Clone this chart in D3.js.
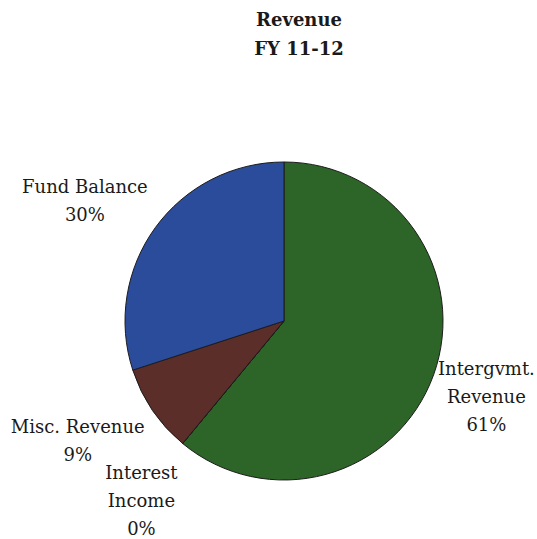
<!DOCTYPE html>
<html>
<head>
<meta charset="utf-8">
<script src="https://cdn.jsdelivr.net/npm/d3@7"></script>
<style>
  html, body { margin: 0; padding: 0; background: #ffffff; }
  svg { display: block; }
</style>
</head>
<body>
<svg id="chart" width="537" height="539"></svg>
<script>
// Revenue sources, FY 11-12 (percent of total)
const categories = ["Intergvmt. Revenue", "Interest Income", "Misc. Revenue", "Fund Balance"];
const values = [61, 0, 9, 30];
const labelLines = [["Intergvmt.", "Revenue", "61%"], ["Interest", "Income", "0%"], ["Misc. Revenue", "9%"], ["Fund Balance", "30%"]];
const colors = ["#2d6427", "#3a3a3a", "#5b2e29", "#2b4b9b"];
const titleLines = ["Revenue", "FY 11-12"];

const fontFamily = "DejaVu Serif, serif";

const svg = d3.select("#chart");
const cx = 284, cy = 321, radius = 159;

// Title
svg.append("text")
  .attr("x", 299).attr("y", 26)
  .attr("text-anchor", "middle")
  .attr("fill", "#1a1a1a")
  .attr("font-family", fontFamily)
  .attr("font-weight", "bold")
  .attr("font-size", 18)
  .selectAll("tspan").data(titleLines).join("tspan")
  .attr("x", 299).attr("dy", (d, i) => i === 0 ? 0 : 29)
  .text(d => d);

const pie = d3.pie().sort(null).value(d => d)(values);
const arc = d3.arc().innerRadius(0).outerRadius(radius);
const labelArc = d3.arc().innerRadius(230).outerRadius(230);

const g = svg.append("g").attr("transform", `translate(${cx},${cy})`);

g.selectAll("path.slice").data(pie).join("path")
  .attr("class", "slice")
  .attr("d", arc)
  .attr("fill", (d, i) => colors[i])
  .attr("stroke", "#1c1c1c")
  .attr("stroke-width", 1)
  .attr("stroke-linejoin", "round");

// Outside labels placed around the pie, with small per-label nudges
const nudges = [[-14, -3], [4, 2], [-16, -10], [-13, 14]];
const lineH = 28;

g.selectAll("text.label").data(pie).join("text")
  .attr("class", "label")
  .attr("text-anchor", "middle")
  .attr("fill", "#1a1a1a")
  .attr("font-family", fontFamily)
  .attr("font-size", 18)
  .each(function(d, i) {
    const [x0, y0] = labelArc.centroid(d);
    const x = x0 + nudges[i][0];
    const lines = labelLines[i];
    const yStart = y0 + nudges[i][1] - (lines.length - 1) * lineH / 2 + 7;
    d3.select(this).selectAll("tspan").data(lines).join("tspan")
      .attr("x", x)
      .attr("y", (l, k) => yStart + k * lineH)
      .text(l => l);
  });
</script>
</body>
</html>
